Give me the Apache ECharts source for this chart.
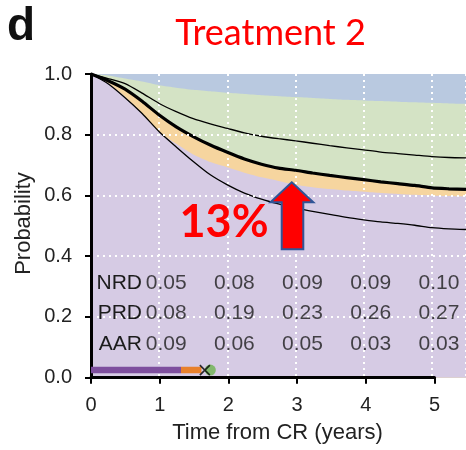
<!DOCTYPE html>
<html><head><meta charset="utf-8">
<script src="https://cdn.jsdelivr.net/npm/echarts@6/dist/echarts.min.js"></script>
<style>html,body{margin:0;padding:0;background:#fff}#c{width:466px;height:450px}</style>
</head><body><div id="c"></div>
<script>
// ---- data ----
const times          = [0,0.25,0.5,0.75,1,1.25,1.5,1.75,2,2.25,2.5,2.75,3,3.25,3.5,3.75,4,4.25,4.5,4.75,5,5.25,5.5];
const blueGreen      = [1,0.995,0.985,0.975,0.963,0.955,0.948,0.943,0.938,0.934,0.930,0.927,0.924,0.921,0.918,0.915,0.913,0.911,0.909,0.907,0.905,0.903,0.902];
const upperThin      = [1,0.985,0.968,0.937,0.903,0.876,0.853,0.836,0.821,0.806,0.795,0.787,0.780,0.772,0.764,0.757,0.750,0.743,0.738,0.733,0.728,0.725,0.724];
const thickCurve     = [1,0.978,0.950,0.910,0.865,0.826,0.794,0.766,0.742,0.720,0.703,0.690,0.683,0.674,0.666,0.659,0.652,0.645,0.639,0.633,0.625,0.622,0.620];
const orangeBottom   = [1,0.970,0.925,0.870,0.810,0.770,0.735,0.710,0.693,0.675,0.660,0.648,0.635,0.627,0.621,0.616,0.612,0.608,0.605,0.602,0.600,0.598,0.597];
const lowerThin      = [1,0.968,0.922,0.870,0.810,0.760,0.712,0.668,0.635,0.608,0.588,0.572,0.558,0.548,0.538,0.528,0.520,0.513,0.508,0.502,0.494,0.490,0.488];
const xTickValues    = [0,1,2,3,4,5];
const yTickValues    = [0,0.2,0.4,0.6,0.8,1.0];
const tableRowNames  = ['NRD','PRD','AAR'];
const tableTimes     = [1,2,3,4,5];
const nrdValues      = ['0.05','0.08','0.09','0.09','0.10'];
const prdValues      = ['0.08','0.19','0.23','0.26','0.27'];
const aarValues      = ['0.09','0.06','0.05','0.03','0.03'];
const timelinePurple = [0,1.32];
const timelineOrange = [1.32,1.62];
const timelineCross  = [1.67];
const timelineCircle = [1.75];
const timelineLevel  = 0.025;
const annotation     = '13%';
const titleText      = 'Treatment 2';

// ---- layout (not data) ----
const tableRowY = [0.311, 0.212, 0.110];
const C = {blue:'#b9c9e0', green:'#d4e3c5', orange:'#f6d59f', purple:'#d6cbe4'};
const F = 'Liberation Sans, Arial, sans-serif';

const chart = echarts.init(document.getElementById('c'), null, {renderer:'canvas'});
const pairs = arr => times.map((t,i)=>[t,arr[i]]);

const tableData = [];
[nrdValues, prdValues, aarValues].forEach((row,r)=>row.forEach((v,c)=>tableData.push({value:[tableTimes[c], tableRowY[r]], label:{formatter:v}})));

const areaSeries = (arr, color) => ({type:'line', data:pairs(arr), smooth:0.2, symbol:'none', z:1,
  lineStyle:{width:0}, areaStyle:{color:color, opacity:1}, silent:true});
const lineSeries = (arr, w) => ({type:'line', data:pairs(arr), smooth:0.2, symbol:'none', z:4,
  lineStyle:{width:w, color:'#000'}, silent:true});
const barSeries = (range, color) => ({type:'line', data:range.map(t=>[t,timelineLevel]), symbol:'none', z:6,
  lineStyle:{width:6.5, color:color, cap:'butt'}});

chart.setOption({
  animation:false,
  grid:[
    {left:91, top:74, right:-3, bottom:72.3, show:true, backgroundColor:C.blue, borderWidth:0},
    {left:91, top:74, width:343.5, bottom:72.3, show:false}
  ],
  xAxis:[
    {gridIndex:0, type:'value', min:0, max:5.5, interval:1, z:3,
     axisLine:{show:false}, axisTick:{show:false}, axisLabel:{show:false},
     splitLine:{show:true, showMinLine:false, lineStyle:{color:'#ffffff', width:2, type:[2,4]}}},
    {gridIndex:1, type:'value', min:xTickValues[0], max:xTickValues[xTickValues.length-1], interval:1, z:7,
     axisLine:{show:true, onZero:false, lineStyle:{color:'#000', width:3}},
     axisTick:{show:true, length:6, lineStyle:{color:'#000', width:2}},
     axisLabel:{show:true, margin:18, fontSize:20, color:'#222', fontFamily:F},
     splitLine:{show:false}}
  ],
  yAxis:[
    {gridIndex:0, type:'value', min:yTickValues[0], max:yTickValues[yTickValues.length-1], interval:0.2, z:5,
     axisLine:{show:true, lineStyle:{color:'#000', width:3}},
     axisTick:{show:true, length:6, lineStyle:{color:'#000', width:2}},
     axisLabel:{show:true, margin:19, fontSize:20, color:'#222', fontFamily:F, formatter:v=>v.toFixed(1)},
     splitLine:{show:true, showMinLine:false, showMaxLine:false, lineStyle:{color:'#ffffff', width:2, type:[2,4]}}},
    {gridIndex:1, type:'value', min:0, max:1, show:false}
  ],
  series:[
    areaSeries(blueGreen, C.green),
    areaSeries(thickCurve, C.orange),
    areaSeries(orangeBottom, C.purple),
    lineSeries(upperThin, 1.3),
    lineSeries(thickCurve, 3.2),
    lineSeries(lowerThin, 1.3),
    barSeries(timelinePurple, '#7e4f9e'),
    barSeries(timelineOrange, '#e8812c'),
    {type:'scatter', data:timelineCircle.map(t=>[t,timelineLevel]), symbol:'circle', symbolSize:11, z:7,
     itemStyle:{color:'#6db34f'}},
    {type:'scatter', data:timelineCross.map(t=>[t,timelineLevel]), symbol:'path://M0,0L10,10M10,0L0,10', symbolSize:10, z:8,
     itemStyle:{color:'rgba(0,0,0,0)', borderColor:'#000', borderWidth:1.6}},
    {type:'scatter', data:tableData, symbolSize:0, z:8,
     label:{show:true, position:'inside', offset:[7,0], fontSize:21, color:'#1c1c1c', fontFamily:F}}
  ],
  graphic:[
    {type:'text', left:7, top:4, style:{text:'d', font:'bold 46px '+F, fill:'#111'}},
    {type:'text', x:270.5, y:33.5, style:{text:titleText, font:'36px Lato, sans-serif', fill:'#ff0000', align:'center', verticalAlign:'middle'}},
    {type:'text', x:23.5, y:223.5, rotation:Math.PI/2, style:{text:'Probability', font:'22px '+F, fill:'#222', align:'center', verticalAlign:'middle'}},
    {type:'text', x:277.5, y:433, style:{text:'Time from CR (years)', font:'22px '+F, fill:'#222', align:'center', verticalAlign:'middle'}},
    {type:'text', x:142, y:283.3, z:100, style:{text:tableRowNames[0], font:'21px '+F, fill:'#1c1c1c', align:'right', verticalAlign:'middle'}},
    {type:'text', x:142, y:313.3, z:100, style:{text:tableRowNames[1], font:'21px '+F, fill:'#1c1c1c', align:'right', verticalAlign:'middle'}},
    {type:'text', x:142, y:344.3, z:100, style:{text:tableRowNames[2], font:'21px '+F, fill:'#1c1c1c', align:'right', verticalAlign:'middle'}},
    {type:'text', x:224, y:222, z:100, style:{text:annotation, font:'bold 45px Lato, sans-serif', fill:'#ff0000', align:'center', verticalAlign:'middle'}},
    {type:'polygon', z:100, shape:{points:[[291.7,182.3],[313.3,202.3],[303.3,202.3],[303.3,249.3],[281.7,249.3],[281.7,202.3],[270.5,202.3]]},
     style:{fill:'#ff0000', stroke:'#2f5597', lineWidth:2}}
  ]
});
</script></body></html>
